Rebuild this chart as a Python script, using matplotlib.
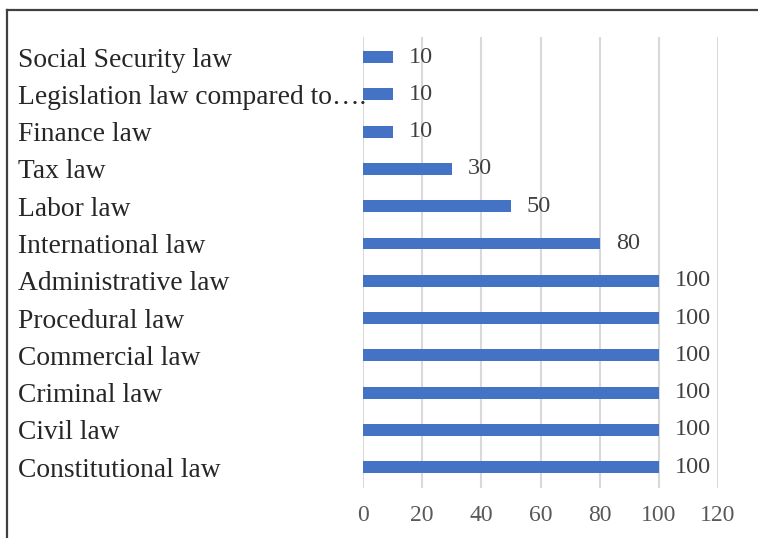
import matplotlib
matplotlib.use("Agg")
import matplotlib.pyplot as plt
from matplotlib.lines import Line2D

categories = ["Constitutional law", "Civil law", "Criminal law", "Commercial law",
              "Procedural law", "Administrative law", "International law", "Labor law",
              "Tax law", "Finance law", "Legislation law compared to\u2026.", "Social Security law"]
values = [100, 100, 100, 100, 100, 100, 80, 50, 30, 10, 10, 10]
xticks = [0, 20, 40, 60, 80, 100, 120]

plt.rcParams['font.family'] = ['Liberation Serif', 'DejaVu Serif']

fig = plt.figure(figsize=(7.58, 5.38), dpi=100)
ax = fig.add_axes([363/758, 1-488/538, (718-363)/758, (488-37)/538])

pos = list(range(len(categories)))
ax.barh(pos, values, height=0.32, color="#4472C4", zorder=3)

for p, v in zip(pos, values):
    ax.annotate(str(v), xy=(v, p), xytext=(11.5, 0), textcoords="offset points",
                ha="left", va="center", fontsize=17.5, color="#404040")

ax.set_xlim(0, 120)
ax.set_ylim(-0.56, 11.54)
ax.set_xticks(xticks)
ax.set_xticklabels([str(t) for t in xticks], fontsize=17, color="#595959")
ax.set_yticks(pos)
ax.set_yticklabels(categories, fontsize=19.8, color="#262626", ha="left")
ax.tick_params(axis="y", length=0, pad=(363-18)*0.72)
ax.tick_params(axis="x", length=0, pad=12)
ax.grid(axis="x", color="#d9d9d9", linewidth=1.5, zorder=0)
for s in ax.spines.values():
    s.set_visible(False)

# outer frame (top and left)
fig.add_artist(Line2D([7/758, 1.0], [1-10/538, 1-10/538], transform=fig.transFigure,
                      color="#404040", linewidth=1.6))
fig.add_artist(Line2D([7/758, 7/758], [0, 1-10/538], transform=fig.transFigure,
                      color="#404040", linewidth=1.6))

fig.savefig("out.png", dpi=100)
